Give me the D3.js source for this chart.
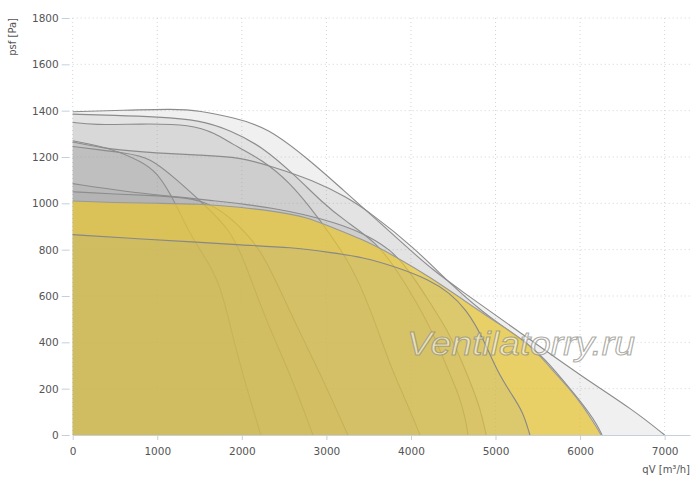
<!DOCTYPE html>
<html>
<head>
<meta charset="utf-8">
<script src="https://cdn.jsdelivr.net/npm/d3@7"></script>
<style>
  body { margin: 0; background: #fff; }
  svg { display: block; }
</style>
</head>
<body>
<svg id="chart"></svg>
<script>
// fan curves, [qV m3/h, psf Pa]
const fanA = [[0,1395],[600,1402],[1200,1408],[1500,1400],[1900,1370],[2300,1329],[2800,1187],[3200,1057],[3600,928],[3950,811],[4260,712],[4580,626],[5250,453],[6030,250],[6630,108],[7000,0]];
const fanB = [[0,1385],[500,1380],[1000,1373],[1500,1360],[1862,1316],[2250,1243],[2650,1113],[2960,1001],[3200,930],[3598,830],[3834,712],[4071,570],[4261,440],[4426,293],[4570,170],[4640,80],[4675,0]];
const fanC = [[0,1350],[240,1338],[800,1343],[1400,1342],[1700,1300],[1862,1260],[2250,1187],[2570,1088],[2805,984],[3040,870],[3281,740],[3516,552],[3752,300],[3950,140],[4107,0]];
const fanD = [[0,1270],[440,1240],[830,1178],[1000,1130],[1150,1044],[1270,958],[1365,885],[1505,798],[1740,669],[1900,410],[2060,200],[2225,0]];
const fanE = [[0,1265],[440,1232],[1000,1217],[1500,1208],[1980,1200],[2370,1157],[2840,1100],[3240,1027],[3516,960],[4022,815],[4500,640],[4850,530],[5200,440],[5500,360],[5700,280],[5950,170],[6100,100],[6200,45],[6260,0]];
const fanF = [[0,1245],[300,1232],[600,1218],[915,1200],[1235,1100],[1540,1001],[1860,885],[2014,768],[2297,483],[2569,268],[2841,0]];
const fanG = [[0,1085],[640,1050],[1190,1030],[1588,1014],[2368,984],[3160,915],[3516,855],[3752,800],[3953,725],[4261,552],[4426,453],[4545,367],[4700,230],[4816,120],[4890,0]];
const fanH = [[0,1050],[500,1040],[1000,1033],[1543,1020],[1860,941],[2050,870],[2217,800],[2416,656],[2688,440],[2924,268],[3255,0]];
const fanSel = [[0,1010],[500,1003],[1000,1000],[1500,998],[1980,984],[2400,965],[2770,941],[3040,900],[3430,845],[3830,768],[4225,682],[4620,583],[5020,483],[5400,397],[5640,293],[5900,190],[6040,121],[6150,60],[6250,0]];
const fanLow = [[0,865],[800,846],[1420,834],[1980,820],[2600,810],[3040,788],[3430,768],[3830,725],[4225,669],[4450,615],[4650,545],[4852,420],[5018,275],[5200,170],[5325,100],[5407,0]];

const greyFans = [fanA, fanB, fanC, fanD, fanE, fanF, fanG, fanH];

const xTicks = [0, 1000, 2000, 3000, 4000, 5000, 6000, 7000];
const yTicks = [0, 200, 400, 600, 800, 1000, 1200, 1400, 1600, 1800];

const svgWidth = 700;
const svgHeight = 484;

const svg = d3.select("#chart")
  .attr("width", svgWidth)
  .attr("height", svgHeight)
  .style("font-family", "'DejaVu Sans', sans-serif");

const x = d3.scaleLinear().domain([0, 7300]).range([72.7, 690]);
const y = d3.scaleLinear().domain([0, 1800]).range([435, 18]);

// dotted grid
svg.append("g").selectAll("line")
  .data(yTicks.slice(1))
  .enter().append("line")
  .attr("x1", x(0)).attr("x2", x(7300))
  .attr("y1", d => y(d)).attr("y2", d => y(d))
  .attr("stroke", "#d4d4d4")
  .attr("stroke-dasharray", "1,3");

svg.append("g").selectAll("line")
  .data(xTicks)
  .enter().append("line")
  .attr("x1", d => x(d)).attr("x2", d => x(d))
  .attr("y1", y(0)).attr("y2", y(1800))
  .attr("stroke", "#d4d4d4")
  .attr("stroke-dasharray", "1,3");

const area = d3.area()
  .x(d => x(d[0]))
  .y0(y(0))
  .y1(d => y(d[1]))
  .curve(d3.curveBasis);

const line = d3.line()
  .x(d => x(d[0]))
  .y(d => y(d[1]))
  .curve(d3.curveBasis);

function drawFan(data, fill, opacity, stroke) {
  svg.append("path")
    .datum(data)
    .attr("d", area)
    .attr("fill", fill)
    .attr("fill-opacity", opacity);
  svg.append("path")
    .datum(data)
    .attr("d", line)
    .attr("fill", "none")
    .attr("stroke", stroke)
    .attr("stroke-width", 1.1);
}

// grey fans, then the selected (yellow) one, then the low one on top
greyFans.forEach(f => drawFan(f, "#999999", 0.15, "#8c8c8c"));
drawFan(fanSel, "rgb(233,200,48)", 0.7, "#999999");
drawFan(fanLow, "#999999", 0.15, "#888888");

// axes
const xAxis = svg.append("g")
  .attr("transform", `translate(0,${y(0)})`)
  .call(d3.axisBottom(x).tickValues(xTicks).tickFormat(d3.format("d")).tickSize(5).tickSizeOuter(0));

const yAxis = svg.append("g")
  .attr("transform", `translate(${x(0) - 3},0)`)
  .call(d3.axisLeft(y).tickValues(yTicks).tickFormat(d3.format("d")).tickSize(8).tickSizeOuter(0));

yAxis.select(".domain").remove();
xAxis.select(".domain").attr("stroke", "#c4d0dc");
svg.selectAll(".tick line").attr("stroke", "#c4d0dc");
svg.selectAll(".tick text")
  .attr("fill", "#555")
  .style("font-size", "10.5px")
  .style("font-family", "'DejaVu Sans', sans-serif");
xAxis.selectAll(".tick text").attr("dy", "1.1em");
yAxis.selectAll(".tick text").attr("x", -11);

// axis titles
svg.append("text")
  .attr("transform", "translate(16,18) rotate(-90)")
  .attr("text-anchor", "end")
  .attr("fill", "#555")
  .style("font-size", "10px")
  .text("psf [Pa]");

svg.append("text")
  .attr("x", 690)
  .attr("y", 473)
  .attr("text-anchor", "end")
  .attr("fill", "#555")
  .style("font-size", "10px")
  .text("qV [m³/h]");

// watermark
svg.append("text")
  .attr("x", 407)
  .attr("y", 355)
  .attr("textLength", 228)
  .attr("lengthAdjust", "spacingAndGlyphs")
  .attr("fill", "#ffffff")
  .attr("fill-opacity", 0.5)
  .attr("stroke", "#8a8a80")
  .attr("stroke-opacity", 0.7)
  .attr("stroke-width", 1.1)
  .style("font-size", "34px")
  .style("font-style", "italic")
  .style("font-family", "'Liberation Sans', sans-serif")
  .text("Ventilatorry.ru");
</script>
</body>
</html>
